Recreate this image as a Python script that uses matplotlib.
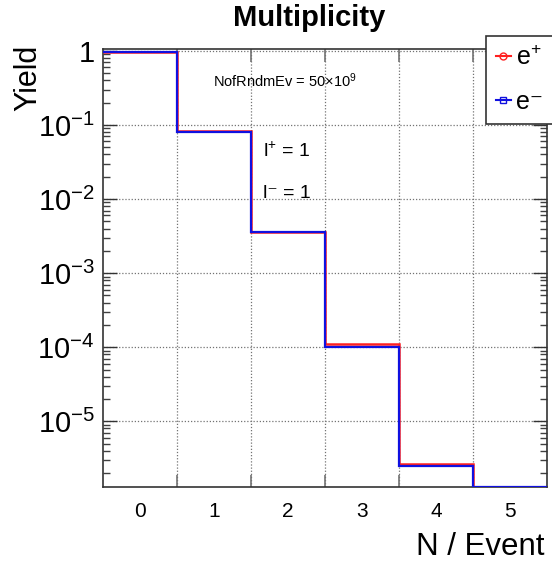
import numpy as np
import matplotlib
matplotlib.use("Agg")
import matplotlib.pyplot as plt
from matplotlib.ticker import FixedLocator, FixedFormatter, LogLocator, NullFormatter

plt.rcParams['font.family'] = ['Liberation Sans', 'DejaVu Sans']
plt.rcParams['mathtext.fontset'] = 'custom'
plt.rcParams['mathtext.rm'] = 'Liberation Sans'
plt.rcParams['mathtext.it'] = 'Liberation Sans:italic'
plt.rcParams['mathtext.bf'] = 'Liberation Sans:bold'

# multiplicity bins (N per event) and yields
n_per_event = [0, 1, 2, 3, 4, 5]
yield_eplus = [0.955, 0.0838, 3.63e-3, 1.11e-4, 2.66e-6, 0.0]
yield_eminus = [0.955, 0.0798, 3.60e-3, 1.02e-4, 2.50e-6, 0.0]
ytick_vals = [1, 1e-1, 1e-2, 1e-3, 1e-4, 1e-5]
ytick_labels = ['1', r'$10^{-1}$', r'$10^{-2}$', r'$10^{-3}$', r'$10^{-4}$', r'$10^{-5}$']

ymin, ymax = 1.31e-6, 1.06

W, H = 552, 564
fig = plt.figure(figsize=(W / 100, H / 100), dpi=100)
ax = fig.add_axes([103 / W, 1 - 486.7 / H, 444 / W, (486.7 - 49) / H])

edges = np.arange(len(n_per_event) + 1) - 0.5
# ROOT draws empty bins on the bottom of the frame
ep = np.maximum(yield_eplus, ymin)
em = np.maximum(yield_eminus, ymin)
ax.stairs(ep, edges, baseline=None, color='#ff2020', lw=1.8, zorder=3)
ax.stairs(em, edges, baseline=None, color='#1010e0', lw=1.6, zorder=4)

ax.set_yscale('log')
ax.set_ylim(ymin, ymax)
ax.set_xlim(edges[0], edges[-1])

# x: ticks + grid on bin edges, labels on bin centres
ax.xaxis.set_major_locator(FixedLocator(edges[1:-1]))
ax.xaxis.set_major_formatter(NullFormatter())
ax.xaxis.set_minor_locator(FixedLocator(n_per_event))
ax.xaxis.set_minor_formatter(FixedFormatter([str(n) for n in n_per_event]))
ax.tick_params(axis='x', which='major', direction='in', length=9, width=1.2,
               color='0.45', top=True, bottom=True)
ax.tick_params(axis='x', which='minor', length=0, pad=11, labelsize=15)

ax.yaxis.set_major_locator(FixedLocator(ytick_vals))
ax.yaxis.set_major_formatter(FixedFormatter(ytick_labels))
ax.yaxis.set_minor_locator(LogLocator(base=10, subs=np.arange(2, 10), numticks=20))
ax.yaxis.set_minor_formatter(NullFormatter())
ax.tick_params(axis='y', which='major', direction='in', length=10, width=1.0,
               color='0.2', left=True, right=True, labelsize=21, pad=6)
ax.tick_params(axis='y', which='minor', direction='in', length=5, width=1.0,
               color='0.25', left=True, right=True)

ax.grid(True, which='major', axis='both', ls=(0, (1, 1.5)), color='0.45', lw=0.9)
for s in ax.spines.values():
    s.set_color('0.2')
    s.set_linewidth(1.2)

fig.text(309 / W, 1 - 26 / H, 'Multiplicity', ha='center', va='baseline',
         fontsize=21, fontweight='bold')
fig.text(28 / W, 1 - 45 / H, 'Yield', rotation=90, ha='center', va='top', fontsize=22)
fig.text(545 / W, 1 - 555 / H, 'N / Event', ha='right', va='baseline', fontsize=22.5)

fig.text(213 / W, 1 - 86.7 / H, r'NofRndmEv = 50$\times$10$^{9}$', ha='left',
         va='baseline', fontsize=10.5)
fig.text(263 / W, 1 - 156.7 / H, r'l$^{+}$ = 1', ha='left', va='baseline', fontsize=14)
fig.text(263 / W, 1 - 198.3 / H, 'l$^{\\mathrm{-}}$ = 1'.replace('$^{\\mathrm{-}}$', '\u207b'),
         ha='left', va='baseline', fontsize=14)

h1, = ax.plot([], [], color='#ff2020', marker='o', mfc='none', ms=5, lw=1.5)
h2, = ax.plot([], [], color='#1010e0', marker='s', mfc='none', ms=5, lw=1.5)
leg = fig.legend([h1, h2], [r'e$^{+}$', 'e\u207b'], loc='upper left',
                 bbox_to_anchor=(485.7 / W, 1 - 35.7 / H, 0.2, 0.0),
                 mode='expand', fontsize=18, frameon=True, fancybox=False,
                 edgecolor='0.2', framealpha=1, handlelength=0.6,
                 handletextpad=0.2, labelspacing=0.8, borderpad=0.4,
                 borderaxespad=0)
leg.get_frame().set_linewidth(1.2)

fig.savefig('out.png', dpi=100)
